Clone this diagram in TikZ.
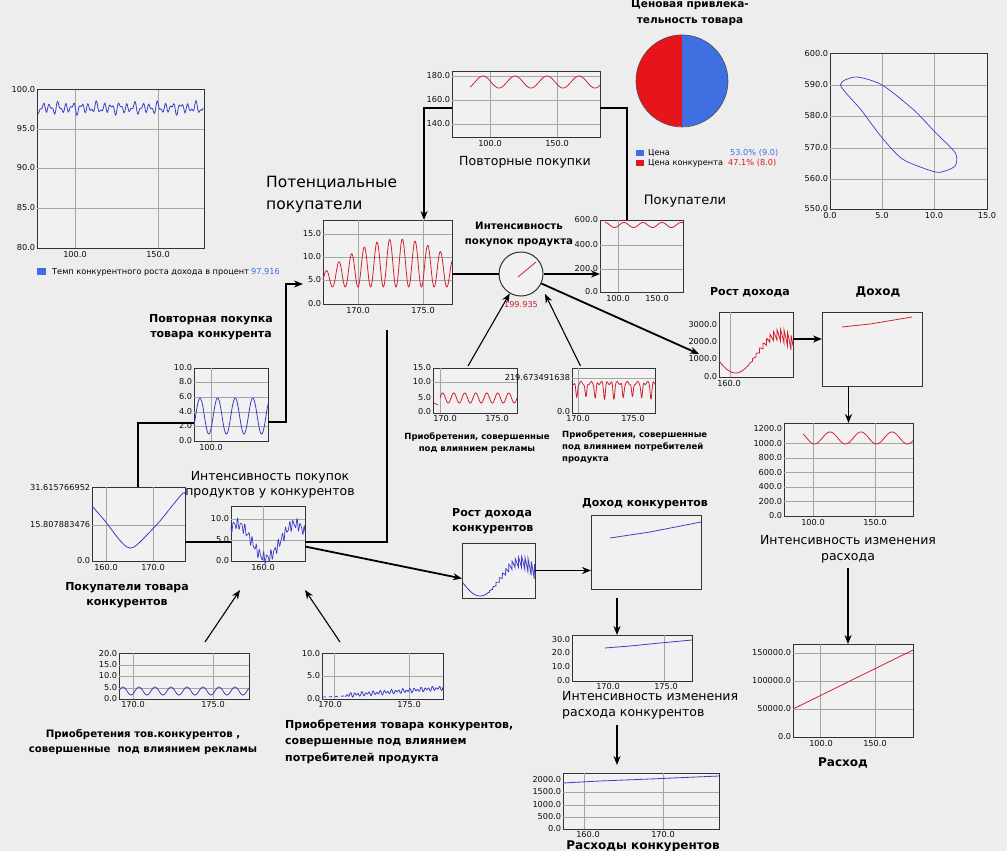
\documentclass[tikz,border=0pt]{standalone}
\usepackage{fontspec}
\setmainfont{DejaVu Sans}
\usetikzlibrary{arrows.meta}
\definecolor{bg}{HTML}{EDEDED}
\definecolor{plotbg}{HTML}{F1F1F1}
\definecolor{gridc}{HTML}{A6A6A6}
\definecolor{lred}{HTML}{D02030}
\definecolor{lblue}{HTML}{3C3CC8}
\definecolor{pred}{HTML}{E8141C}
\definecolor{pblue}{HTML}{3F6FE0}
\newcount\tkn
\newcommand\yl[3]{\global\advance\tkn by 1 \node[tick,anchor=east] (tk\the\tkn) at (#1,#2) {#3};}
\newcommand\xl[3]{\global\advance\tkn by 1 \node[tick,anchor=north] (tk\the\tkn) at (#1,#2) {#3};}
\newcommand\chart[5]{\node[chartbox,anchor=north west,minimum width=#4pt,minimum height=#5pt] (#1) at (#2,#3) {};}
\begin{document}
\begin{tikzpicture}[x=1pt,y=-1pt,
  tick/.style={font=\fontsize{8.2}{9.5}\selectfont, inner sep=0.6pt, text=black!95},
  ttl/.style={font=\fontsize{12.5}{15.5}\selectfont, inner sep=0, align=center},
  ttlb/.style={font=\bfseries\fontsize{11}{15}\selectfont, inner sep=0, align=center},
  sbold/.style={font=\bfseries\fontsize{8.5}{12}\selectfont, inner sep=0, align=center},
  leg/.style={font=\fontsize{8.2}{9.5}\selectfont, inner sep=0},
  chartbox/.style={draw=black!80, fill=plotbg, line width=1pt, inner sep=0, outer sep=0},
  gridl/.style={gridc, line width=0.7pt},
  cr/.style={lred, line width=0.8pt},
  cb/.style={lblue, line width=0.8pt},
  conn/.style={black, line width=1.8pt},
  thinconn/.style={black, line width=1.1pt},
  arr/.style={-{Stealth[length=9pt,width=7pt]}}]
\fill[bg] (0,0) rectangle (1007,851);
\useasboundingbox (0,0) rectangle (1007,851);

% ---------- A: temp chart
\chart{A}{37}{90}{167}{158}
\foreach \gx in {75,158} \draw[gridl] (\gx,90) -- (\gx,248);
\foreach \gy in {129,168,208} \draw[gridl] (37,\gy) -- (204,\gy);
\yl{36}{90}{100.0}\yl{36}{129}{95.0}\yl{36}{168}{90.0}\yl{36}{208}{85.0}\yl{36}{248}{80.0}
\xl{75}{251}{100.0}\xl{158}{251}{150.0}
\draw[cb] plot[domain=38:203,samples=260] (\x,{108+3.5*sin((\x-37)*47)+2.5*sin((\x-37)*83+30)+1.5*sin((\x-37)*29)});
\fill[pblue] (37,268) rectangle (46,275);
\node[leg,anchor=west] (legA) at (52,272) {Темп конкурентного роста дохода в процент};
\node[leg,anchor=west,text=pblue] (legAv) at (251,272) {97.916};

% ---------- pie
\node[circle,minimum size=92pt,inner sep=0] (pie) at (682,81) {};
\fill[pred] (pie.north) arc[start angle=90,end angle=270,radius=46pt] -- cycle;
\fill[pblue] (pie.north) arc[start angle=90,end angle=-90,radius=46pt] -- cycle;
\draw[black!70,line width=0.6pt] (pie.center) circle[radius=46pt];
\node[ttlb,font=\bfseries\fontsize{10.5}{16}\selectfont] (piettl) at (690,13) {Ценовая привлека-\\тельность товара};
\fill[pblue] (636,150) rectangle (644,156);
\fill[pred] (636,160) rectangle (644,166);
\node[leg,anchor=west] (legp1) at (648,153) {Цена};
\node[leg,anchor=west] (legp2) at (648,163) {Цена конкурента};
\node[leg,anchor=west,text=pblue] (legp3) at (730,153) {53.0\% (9.0)};
\node[leg,anchor=west,text=pred] (legp4) at (728,163) {47.1\% (8.0)};

% ---------- B: repeat purchases
\chart{B}{452}{72}{148}{65}
\foreach \gx in {490,557} \draw[gridl] (\gx,72) -- (\gx,137);
\foreach \gy in {76,100,124} \draw[gridl] (452,\gy) -- (600,\gy);
\yl{451}{76}{180.0}\yl{451}{100}{160.0}\yl{451}{124}{140.0}
\xl{490}{140}{100.0}\xl{557}{140}{150.0}
\draw[cr] plot[domain=470:600,samples=160] (\x,{82-6*cos((\x-483)/32*360)});
\node[ttl] (Bt) at (525,162) {Повторные покупки};

% ---------- C: potential buyers
\chart{C}{323}{220}{129}{84}
\foreach \gx in {358,423} \draw[gridl] (\gx,220) -- (\gx,304);
\foreach \gy in {234,257,280} \draw[gridl] (323,\gy) -- (452,\gy);
\yl{322}{234}{15.0}\yl{322}{257}{10.0}\yl{322}{280}{5.0}\yl{322}{304}{0.0}
\xl{358}{307}{170.0}\xl{423}{307}{175.0}
\draw[cr] plot[domain=323:452,samples=400] (\x,{287-(14+34*sin((\x-323)/150*180))*(0.5+0.5*sin((\x-323)/12.7*360))});
\node[ttl,font=\fontsize{15.5}{22}\selectfont,align=left,anchor=west] (Ct) at (266,194) {Потенциальные\\покупатели};

% ---------- D: buyers
\chart{D}{600}{220}{83}{72}
\draw[gridl] (618,220) -- (618,292);
\foreach \gy in {245,269} \draw[gridl] (600,\gy) -- (683,\gy);
\yl{599}{220}{600.0}\yl{599}{245}{400.0}\yl{599}{269}{200.0}\yl{599}{292}{0.0}
\xl{618}{295}{100.0}\xl{657}{295}{150.0}
\draw[cr] plot[domain=605:683,samples=120] (\x,{225-2.5*cos((\x-605)/19*360)});
\node[ttl,font=\fontsize{13}{16}\selectfont] (Dt) at (685,201) {Покупатели};

% ---------- gauge
\node[circle,draw=black!80,line width=1pt,fill=plotbg,minimum size=44pt,inner sep=0] (gauge) at (521,274) {};
\draw[lred,line width=0.8pt] (518,277) -- (536,262);
\node[tick,text=lred] (gval) at (521,305) {199.935};
\node[ttlb,font=\bfseries\fontsize{10.2}{15}\selectfont] (gt) at (519,234.5) {Интенсивность\\покупок продукта};

% ---------- E: phase
\chart{E}{830}{54}{157}{155}
\foreach \gx in {882,934} \draw[gridl] (\gx,54) -- (\gx,209);
\foreach \gy in {85,116,148,179} \draw[gridl] (830,\gy) -- (987,\gy);
\yl{829}{54}{600.0}\yl{829}{85}{590.0}\yl{829}{116}{580.0}\yl{829}{148}{570.0}\yl{829}{179}{560.0}\yl{829}{209}{550.0}
\xl{830}{212}{0.0}\xl{882}{212}{5.0}\xl{934}{212}{10.0}\xl{987}{212}{15.0}
\draw[cb,line width=0.7pt] plot[smooth cycle,tension=0.45] coordinates {(840.5,85) (856,77) (882,85) (913.6,109.8) (934.5,131.5) (955.4,153) (955.4,165.6) (945,171) (934.5,171.8) (903,159.4) (882,137.7) (861,109.8)};

% ---------- F: income growth
\chart{F}{719}{312}{74}{65}
\draw[gridl] (730,312) -- (730,377);
\yl{718}{325}{3000.0}\yl{718}{342}{2000.0}\yl{718}{359}{1000.0}\yl{718}{377}{0.0}
\xl{729}{380}{160.0}
\draw[cr] plot[domain=719:793,samples=400] (\x,{354-19*sin((\x-757)/43*180)+(\x>745)*(\x-745)/48*16*(mod(\x,3.5)/3.5-0.5)});
\node[ttlb] (Ft) at (750,292) {Рост дохода};

% ---------- G: income
\chart{G}{822}{312}{100}{74}
\draw[cr] (842,327) -- (870,324) -- (912,317);
\node[ttlb,font=\bfseries\fontsize{12}{15}\selectfont] (Gt) at (878,292) {Доход};

% ---------- H: expense rate
\chart{H}{784}{423}{129}{93}
\foreach \gx in {813,875} \draw[gridl] (\gx,423) -- (\gx,516);
\foreach \gy in {443.5,458,472.5,487,501.5} \draw[gridl] (784,\gy) -- (913,\gy);
\yl{783}{429}{1200.0}\yl{783}{443.5}{1000.0}\yl{783}{458}{800.0}\yl{783}{472.5}{600.0}\yl{783}{487}{400.0}\yl{783}{501.5}{200.0}\yl{783}{516}{0.0}
\xl{813}{519}{100.0}\xl{875}{519}{150.0}
\draw[cr] plot[domain=803:913,samples=160] (\x,{438-6*sin((\x-822.25)/31*360)});
\node[ttl] (Ht) at (848,549) {Интенсивность изменения\\расхода};

% ---------- I: expense
\chart{I}{793}{644}{120}{93}
\foreach \gx in {820,875} \draw[gridl] (\gx,644) -- (\gx,737);
\foreach \gy in {653,681,709} \draw[gridl] (793,\gy) -- (913,\gy);
\yl{792}{653}{150000.0}\yl{792}{681}{100000.0}\yl{792}{709}{50000.0}\yl{792}{737}{0.0}
\xl{821}{740}{100.0}\xl{875}{740}{150.0}
\draw[cr] (793,709) -- (913,650);
\node[ttlb,font=\bfseries\fontsize{12}{15}\selectfont] (It) at (843,763) {Расход};

% ---------- J: competitor income
\chart{J}{591}{515}{110}{74}
\draw[cb] (610,538) -- (650,532) -- (701,522);
\node[ttlb] (Jt) at (645,504) {Доход конкурентов};

% ---------- K: competitor income growth
\chart{K}{462}{543}{73}{55}
\draw[cb] plot[domain=462:535,samples=400] (\x,{579-17*sin((\x-500)/40*180)+(\x>485)*(\x-485)/50*16*(mod(\x,3.2)/3.2-0.5)});
\node[ttlb,align=left,anchor=west] (Kt) at (452,521.5) {Рост дохода\\конкурентов};

% ---------- L: competitor expense rate
\chart{L}{572}{635}{120}{46}
\draw[gridl] (664,635) -- (664,681);
\yl{571}{640}{30.0}\yl{571}{653}{20.0}\yl{571}{667}{10.0}\yl{571}{681}{0.0}
\xl{608}{683}{170.0}\xl{666}{683}{175.0}
\draw[cb] (605,648) -- (630,646) -- (660,643) -- (692,640);
\node[ttl,align=left,anchor=west] (Lt) at (562,705) {Интенсивность изменения\\расхода конкурентов};

% ---------- M: competitor expenses
\chart{M}{563}{773}{156}{56}
\foreach \gx in {584,663} \draw[gridl] (\gx,773) -- (\gx,829);
\foreach \gy in {792,805,817} \draw[gridl] (563,\gy) -- (719,\gy);
\yl{562}{780}{2000.0}\yl{562}{792}{1500.0}\yl{562}{805}{1000.0}\yl{562}{817}{500.0}\yl{562}{829}{0.0}
\xl{588}{831}{160.0}\xl{663}{831}{170.0}
\draw[cb] (563,783) -- (600,781) -- (650,779) -- (719,776);
\node[ttlb,font=\bfseries\fontsize{12}{15}\selectfont] (Mt) at (643,846) {Расходы конкурентов};

% ---------- N: competitor repeat purchase
\chart{N}{194}{368}{74}{73}
\draw[gridl] (211,368) -- (211,441);
\foreach \gy in {382,397,412,426} \draw[gridl] (194,\gy) -- (268,\gy);
\yl{193}{368}{10.0}\yl{193}{382}{8.0}\yl{193}{397}{6.0}\yl{193}{412}{4.0}\yl{193}{426}{2.0}\yl{193}{441}{0.0}
\xl{211}{444}{100.0}
\draw[cb] plot[domain=194:268,samples=160] (\x,{416-18*sin((\x-195.6)/17.6*360)});
\node[ttlb] (Nt) at (211,327.5) {Повторная покупка\\товара конкурента};

% ---------- O: competitor buyers
\chart{O}{92}{487}{93}{74}
\foreach \gx in {106,153} \draw[gridl] (\gx,487) -- (\gx,561);
\draw[gridl] (92,525) -- (185,525);
\yl{91}{488}{31.615766952}\yl{91}{525}{15.807883476}\yl{91}{561}{0.0}
\xl{106}{564}{160.0}\xl{153}{564}{170.0}
\draw[cb] plot[smooth,tension=0.6] coordinates {(92,506) (105,521) (118,538) (127,547) (134,547) (145,537) (160,521) (172,506) (183,493) (185,494)};
\node[ttlb] (Ot) at (127,595.5) {Покупатели товара\\конкурентов};

% ---------- P: competitor purchase intensity
\chart{P}{231}{506}{74}{55}
\draw[gridl] (263,506) -- (263,561);
\foreach \gy in {519,540} \draw[gridl] (231,\gy) -- (305,\gy);
\yl{230}{519}{10.0}\yl{230}{540}{5.0}\yl{230}{561}{0.0}
\xl{263}{564}{160.0}
\draw[lblue,line width=0.7pt] plot[domain=231:305,samples=300] (\x,{541+17*cos((\x-266)/58*360)+4*sin((\x-231)*97)+2*sin((\x-231)*151)});
\node[ttl,font=\fontsize{12.5}{15}\selectfont] (Pt) at (270,484.5) {Интенсивность покупок\\продуктов у конкурентов};

% ---------- Q: bottom-left
\chart{Q}{119}{653}{130}{46}
\foreach \gx in {133,213} \draw[gridl] (\gx,653) -- (\gx,699);
\foreach \gy in {665,676,688} \draw[gridl] (119,\gy) -- (249,\gy);
\yl{118}{654}{20.0}\yl{118}{665}{15.0}\yl{118}{676}{10.0}\yl{118}{688}{5.0}\yl{118}{699}{0.0}
\xl{133}{701}{170.0}\xl{213}{701}{175.0}
\draw[cb] plot[domain=119:249,samples=220] (\x,{691-4*sin((\x-119)/16*360)});
\node[ttlb,font=\bfseries\fontsize{10.2}{15}\selectfont] (Qt) at (143,742.5) {Приобретения тов.конкурентов ,\\совершенные\ \ под влиянием рекламы};

% ---------- R: bottom-middle
\chart{R}{322}{653}{121}{46}
\foreach \gx in {334,409} \draw[gridl] (\gx,653) -- (\gx,699);
\draw[gridl] (322,676) -- (443,676);
\yl{321}{654}{10.0}\yl{321}{676}{5.0}\yl{321}{699}{0.0}
\xl{330}{701}{170.0}\xl{409}{701}{175.0}
\draw[cb,dashed] (323,697) -- (345,696);
\draw[cb] plot[domain=345:443,samples=220] (\x,{697-9*(\x-322)/121+1.5*sin((\x-322)*97)+1*sin((\x-322)*61)});
\node[ttlb,font=\bfseries\fontsize{11}{16.5}\selectfont,align=left,anchor=west] (Rt) at (285,741.5) {Приобретения товара конкурентов,\\совершенные под влиянием\\потребителей продукта};

% ---------- S: advertising purchases
\chart{S}{433}{368}{84}{45}
\draw[gridl] (440,368) -- (440,413);
\draw[gridl] (433,382) -- (517,382);
\yl{432}{368}{15.0}\yl{432}{382}{10.0}\yl{432}{398}{5.0}\yl{432}{412}{0.0}
\xl{445}{415}{170.0}\xl{497}{415}{175.0}
\draw[cr] (434,403) -- (438,405);
\draw[cr] plot[domain=440:517,samples=220] (\x,{398-5*sin((\x-440)/11*360)});
\node[sbold] (St) at (477,443) {Приобретения, совершенные\\под влиянием рекламы};

% ---------- T: consumer purchases
\chart{T}{572}{368}{83}{45}
\draw[gridl] (578,368) -- (578,413);
\draw[gridl] (572,378) -- (655,378);
\global\advance\tkn by 1 \node[tick,anchor=west] (tk\the\tkn) at (504,378) {219.673491638};
\yl{571}{412}{0.0}
\xl{578}{415}{170.0}\xl{633}{415}{175.0}
\draw[cr] plot[domain=573:655,samples=400] (\x,{383+1.5*sin((\x-572)*70)+15*pow(abs(sin((\x-572)/9.3*180)),12)});
\node[sbold,align=left,anchor=north west] (Tt) at (562,431) {Приобретения, совершенные\\под влиянием потребителей\\продукта};

% ---------- connectors
\coordinate (b1) at (627,108);
\coordinate (b2) at (424,108);
\draw[conn] (D.north -| b1) -- (b1) -- (b1 -| B.east);
\draw[conn,arr] (b2 -| B.west) -- (b2) -- (b2 |- C.north);
\draw[conn] (C.east |- gauge) -- (gauge.west);
\draw[conn,arr] (gauge.east) -- (gauge.east -| D.west);
\coordinate (fin) at (699,354);
\draw[conn,arr] (gauge.-25) -- (fin);
\draw[thinconn,arr] ([xshift=-7pt,yshift=2pt]S.north) -- (gauge.240);
\coordinate (g2) at (545,294);
\draw[thinconn,arr] ([xshift=-33pt,yshift=2pt]T.north) -- (g2);
\draw[conn,arr] ([yshift=5.5pt]F.east) -- ([yshift=5.5pt]F.east -| G.west);
\draw[conn,arr] (G.south -| H.north) -- (H.north);
\coordinate (hi) at (848,568);
\draw[conn,arr] (hi) -- (hi |- I.north);
\draw[conn,arr] (K.east) -- (K.east -| J.west);
\coordinate (jl) at (617,598);
\draw[conn,arr] (jl) -- (jl |- L.north);
\coordinate (lm) at (617,725);
\coordinate (lm2) at (617,765);
\draw[conn,arr] (lm) -- (lm2);
\coordinate (nc1) at (286,422);
\coordinate (nc2) at (286,284);
\coordinate (nc3) at (303,284);
\draw[conn,arr] (N.east |- nc1) -- (nc1) -- (nc2) -- (nc3);
\coordinate (on1) at (138,423);
\draw[conn] (O.north -| on1) -- (on1) -- (on1 -| N.west);
\coordinate (op) at (200,542);
\draw[conn] (O.east |- op) -- (op -| P.west);
\coordinate (pc1) at (387,542);
\coordinate (pc2) at (387,330);
\draw[conn] (P.east |- pc1) -- (pc1) -- (pc2);
\draw[conn,arr] ([yshift=-13pt]P.east) -- ([yshift=-8pt]K.west);
\coordinate (q1) at (205,642);
\coordinate (q2) at (240,590);
\draw[thinconn,arr] (q1) -- (q2);
\coordinate (r1) at (340,642);
\coordinate (r2) at (305,590);
\draw[thinconn,arr] (r1) -- (r2);
\end{tikzpicture}
\end{document}
